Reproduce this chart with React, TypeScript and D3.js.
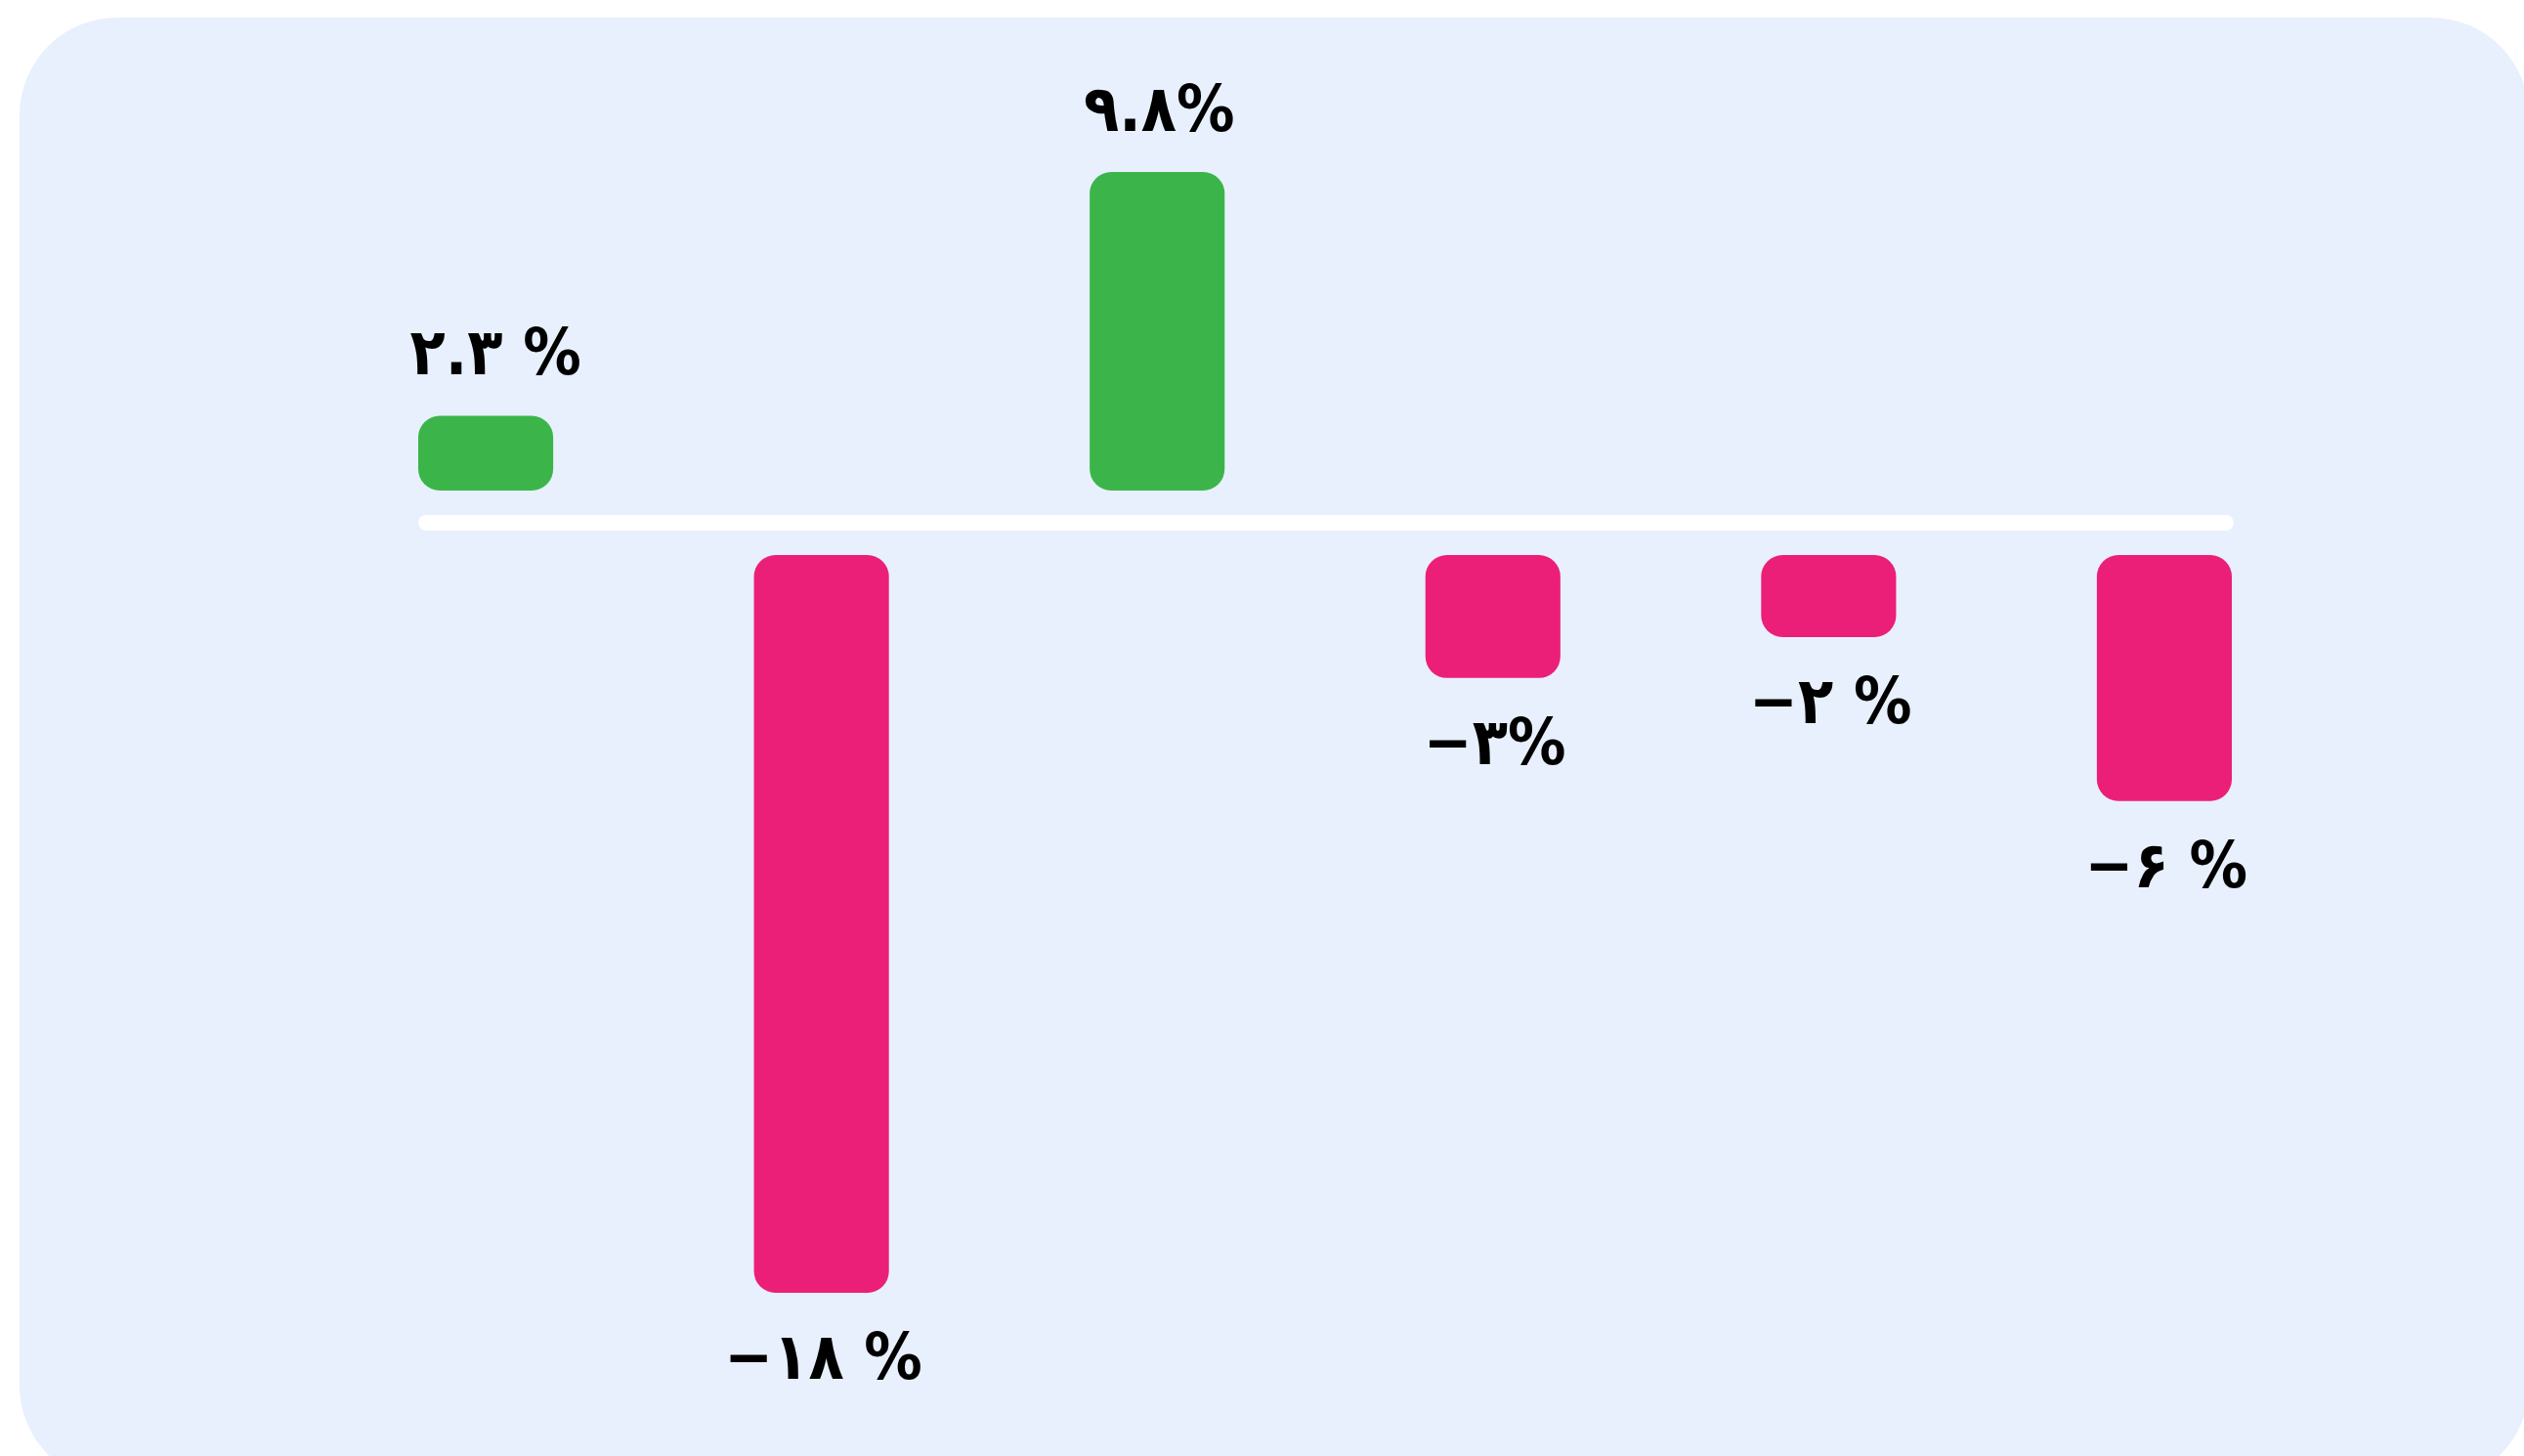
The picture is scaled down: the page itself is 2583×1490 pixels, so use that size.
import React from "react";
import * as d3 from "d3";

const categories = ["c1", "c2", "c3", "c4", "c5", "c6"];
const values = [2.3, -18, 9.8, -3, -2, -6];
const labels = ["۲.۳ %", "−۱۸ %", "۹.۸%", "−۳%", "−۲ %", "−۶ %"];

const W = 2583;
const H = 1490;
const GREEN = "#3BB54A";
const PINK = "#EC1F78";
const CARD = "#E7F0FC";

export default function App() {
  const x = d3
    .scaleBand<string>()
    .domain(categories)
    .range([428, 2284])
    .paddingInner(0.598)
    .paddingOuter(0);

  const minV = d3.min(values) as number;
  const maxV = d3.max(values) as number;
  const h = d3.scaleLinear().domain([minV, 0, maxV]).range([-755, 0, 326]);

  const zeroY = 535;
  const posBase = 502;
  const negTop = 568;
  const bw = x.bandwidth();
  const font = "'DejaVu Sans Condensed', 'DejaVu Sans', sans-serif";

  return (
    <div style={{ position: "fixed", left: 0, top: 0, width: W, height: H, background: "#fff" }}>
      <svg width={W} height={H} style={{ display: "block" }}>
        <rect x={20} y={18} width={2568} height={1500} rx={100} ry={100} fill={CARD} />
        <rect
          x={x(categories[0])!}
          y={zeroY - 8}
          width={x(categories[categories.length - 1])! + bw - x(categories[0])! + 2}
          height={16}
          rx={8}
          fill="#FFFFFF"
        />
        {values.map((v, i) => {
          const hh = Math.abs(h(v));
          const bx = x(categories[i])!;
          const by = v >= 0 ? posBase - hh : negTop;
          const ly = v >= 0 ? by - 42 : by + hh + 88;
          return (
            <g key={i}>
              <rect x={bx} y={by} width={bw} height={hh} rx={22} ry={22} fill={v >= 0 ? GREEN : PINK} />
              <text
                x={bx + bw / 2 + (i === 0 ? 10 : 2)}
                y={ly}
                textAnchor="middle"
                fontFamily={font}
                fontWeight="bold"
                fontSize={66}
                fill="#000"
                direction="ltr"
              >
                {labels[i]}
              </text>
            </g>
          );
        })}
      </svg>
    </div>
  );
}
